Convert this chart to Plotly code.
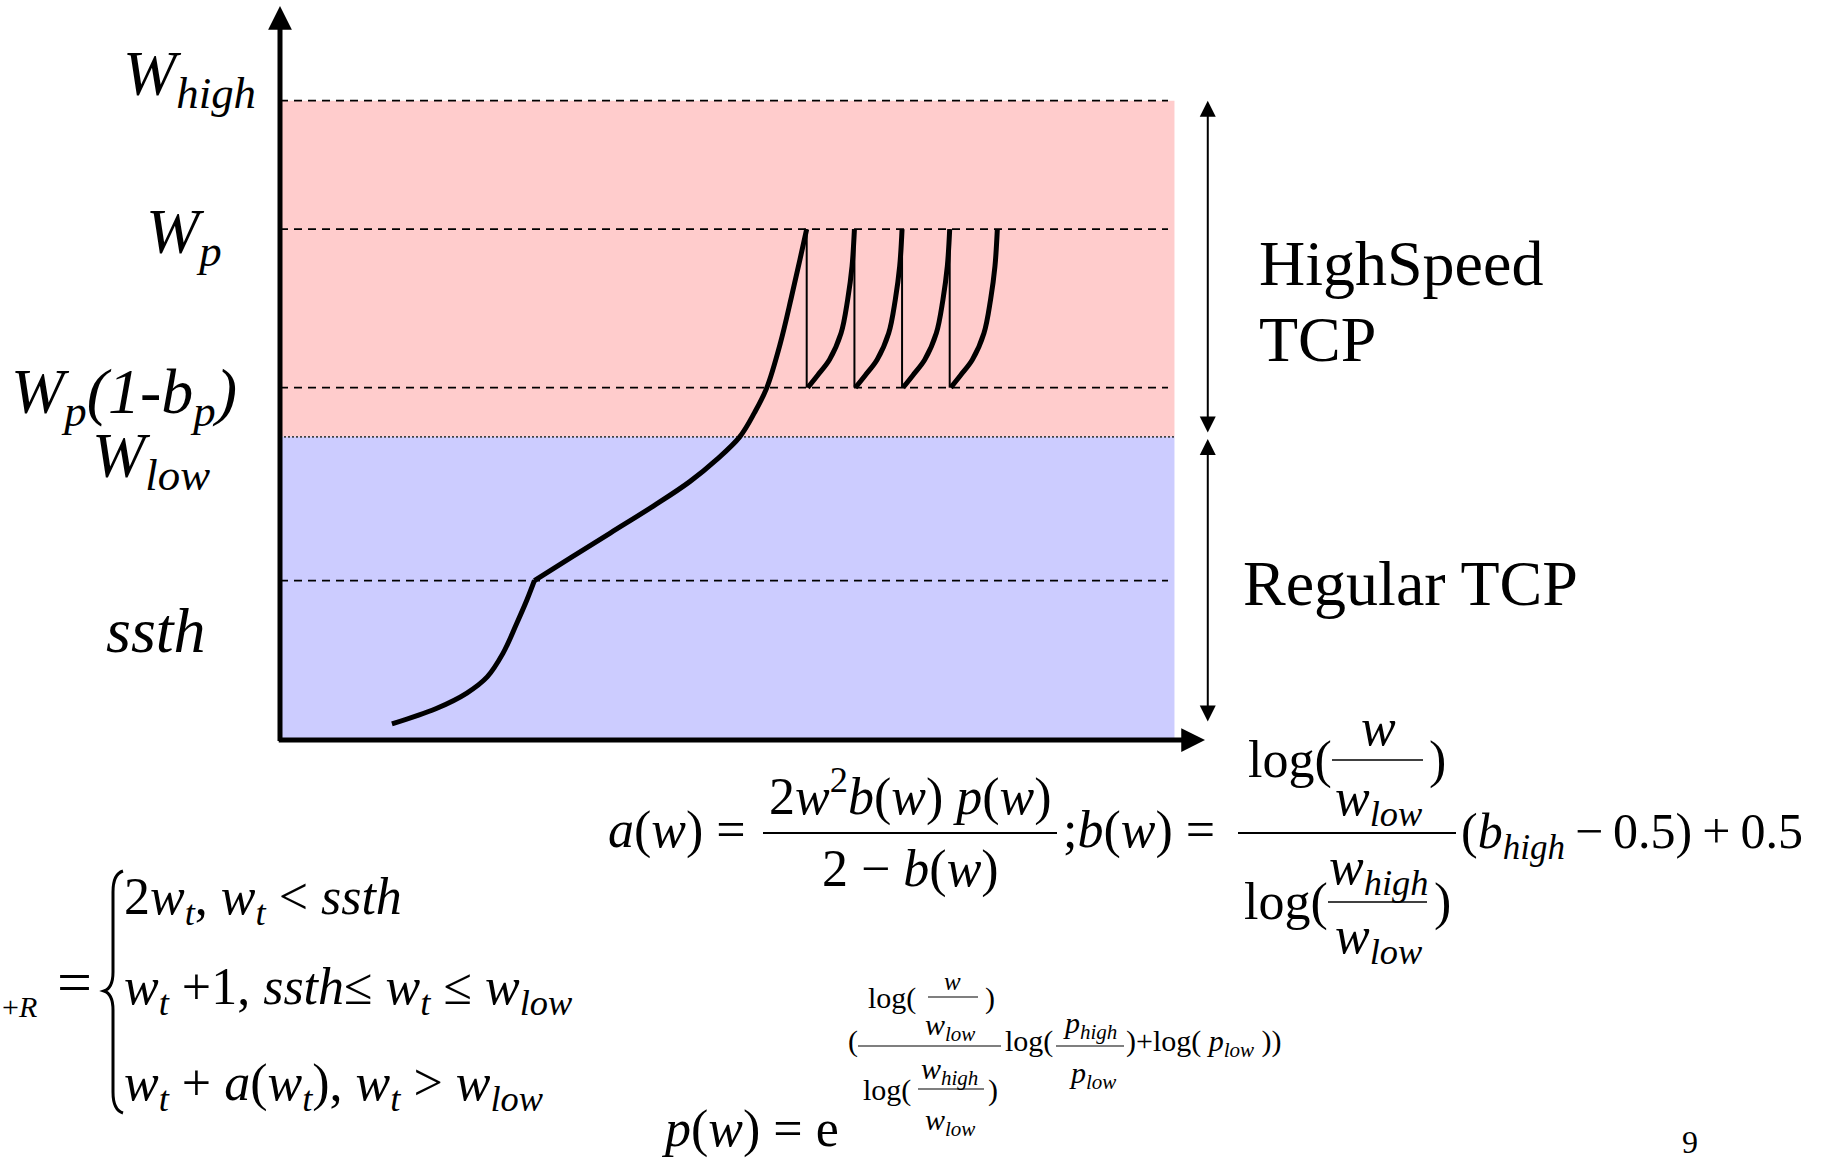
import plotly.graph_objects as go

FIG_W, FIG_H = 1826, 1162
SERIF = "Liberation Serif, Times New Roman, serif"

# ---- congestion-window levels (window axis runs 0..100) ----
W_HIGH = 87.1
W_P = 69.6
W_P_DROP = 48.0      # W_p(1-b_p)
W_LOW = 41.3
SSTH = 21.7

T_MAX = 100.0        # end of the time axis
W_MAX = 100.0        # end of the window axis
ZONE_END = 96.7      # right edge of the shaded regimes
DASH_END = 96.0      # right end of the level guides

# ---- cwnd trajectory ----
# slow start, up to ssth
ss_t = [12.1, 16.9, 20.2, 22.4, 24.1, 25.6, 26.7, 27.5]
ss_w = [2.2, 4.3, 6.4, 8.6, 11.8, 15.9, 19.1, 21.7]
# linear growth, then HighSpeed growth up to the first loss at W_p
ca_t = [27.5, 31.4, 35.7, 40.4, 44.3, 47.2, 49.7, 51.3, 52.6, 54.1, 55.3, 56.2, 56.94]
ca_w = [21.7, 24.8, 28.2, 31.9, 35.2, 38.2, 41.3, 44.6, 47.9, 54.1, 60.4, 65.4, 69.6]
# sawtooth cycles between W_p(1-b_p) and W_p
cyc1_t = [57.05, 58.13, 59.40, 60.65, 61.37, 61.84, 62.10]
cyc2_t = [62.20, 63.28, 64.55, 65.80, 66.52, 66.99, 67.25]
cyc3_t = [67.35, 68.43, 69.70, 70.95, 71.67, 72.14, 72.40]
cyc4_t = [72.50, 73.58, 74.85, 76.10, 76.82, 77.29, 77.55]
cyc_w = [48.0, 49.7, 51.8, 55.4, 60.0, 64.5, 69.6]
# loss events (multiplicative decrease)
loss_t = [56.94, 62.10, 67.25, 72.40]

# ---- axis placement on the page (pixels) ----
ORIGIN_X, ORIGIN_Y = 280, 740
PX_PER_T, PX_PER_W = 9.25, 7.34
x_range = [-ORIGIN_X / PX_PER_T, (FIG_W - ORIGIN_X) / PX_PER_T]
y_range = [-(FIG_H - ORIGIN_Y) / PX_PER_W, ORIGIN_Y / PX_PER_W]

fig = go.Figure()
LINE = dict(color="black", width=5)

fig.add_trace(go.Scatter(x=ss_t, y=ss_w, mode="lines", line=dict(shape="spline", **LINE),
                         hoverinfo="skip", showlegend=False))
fig.add_trace(go.Scatter(x=ca_t, y=ca_w, mode="lines", line=dict(shape="spline", **LINE),
                         hoverinfo="skip", showlegend=False))
for ct in (cyc1_t, cyc2_t, cyc3_t, cyc4_t):
    fig.add_trace(go.Scatter(x=ct, y=cyc_w, mode="lines", line=dict(shape="spline", **LINE),
                             hoverinfo="skip", showlegend=False))

drop_x, drop_y = [], []
for lt in loss_t:
    drop_x += [lt, lt, None]
    drop_y += [W_P, W_P_DROP, None]
fig.add_trace(go.Scatter(x=drop_x, y=drop_y, mode="lines", line=dict(color="black", width=2),
                         hoverinfo="skip", showlegend=False))

shapes = []
# shaded regimes
shapes.append(dict(type="rect", xref="x", yref="y", x0=0, x1=ZONE_END, y0=W_LOW, y1=W_HIGH,
                   fillcolor="#FFCCCC", line=dict(width=0), layer="below"))
shapes.append(dict(type="rect", xref="x", yref="y", x0=0, x1=ZONE_END, y0=0, y1=W_LOW,
                   fillcolor="#CCCCFF", line=dict(width=0), layer="below"))
# level guides
for lv in (W_HIGH, W_P, W_P_DROP, SSTH):
    shapes.append(dict(type="line", xref="x", yref="y", x0=0, x1=DASH_END, y0=lv, y1=lv,
                       line=dict(color="black", width=1.8, dash="8px,6px"), layer="below"))
shapes.append(dict(type="line", xref="x", yref="y", x0=0, x1=ZONE_END, y0=W_LOW, y1=W_LOW,
                   line=dict(color="#444444", width=1.8, dash="2px,2px"), layer="below"))

ann = []


def arrow(x, y, ax, ay, width, size, both=False):
    ann.append(dict(x=x, y=y, ax=ax, ay=ay, xref="x", yref="y", axref="x", ayref="y",
                    text="", showarrow=True, arrowhead=2, arrowsize=size, arrowwidth=width,
                    arrowcolor="black", arrowside="end+start" if both else "end",
                    startarrowhead=2, startarrowsize=size, standoff=0, startstandoff=0))


# axes
arrow(0, W_MAX, 0, -0.35, 5, 0.95)
arrow(T_MAX, 0, -0.3, 0, 5, 0.95)
# regime spans
arrow(T_MAX + 0.3, W_HIGH, T_MAX + 0.3, W_LOW + 0.4, 2, 1.6, both=True)
arrow(T_MAX + 0.3, W_LOW - 0.3, T_MAX + 0.3, 2.3, 2, 1.6, both=True)


def put(x, base, text, size, anchor="left"):
    """Place text with its baseline at pixel row `base`."""
    mid = base - 0.3375 * size
    if "<sub>" in text:
        mid += 0.0725 * size
    if "<sup>" in text:
        mid -= 0.0765 * size
    ann.append(dict(xref="paper", yref="paper", x=x / FIG_W, y=1 - mid / FIG_H, text=text,
                    showarrow=False, xanchor=anchor, yanchor="middle",
                    font=dict(family=SERIF, size=size, color="black")))


def bar(x0, x1, y, w=1.8):
    shapes.append(dict(type="line", xref="paper", yref="paper", x0=x0 / FIG_W, x1=x1 / FIG_W,
                       y0=1 - y / FIG_H, y1=1 - y / FIG_H, line=dict(color="black", width=w)))


# level labels
put(121, 95, "<i>W<sub>high</sub></i>", 64)
put(144, 253, "<i>W<sub>p</sub></i>", 64)
put(9, 413, "<i>W<sub>p</sub>(1-b<sub>p</sub>)</i>", 64)
put(90, 477, "<i>W<sub>low</sub></i>", 64)
put(104, 652, "<i>ssth</i>", 64)

# regime labels
put(1257, 285, "HighSpeed", 64)
put(1257, 361, "TCP", 64)
put(1241, 605, "Regular TCP", 64)

# a(w) and b(w)
EQ = 52
put(606, 848, "<i>a</i>(<i>w</i>) =", EQ)
put(910, 815, "2<i>w</i><sup>2</sup><i>b</i>(<i>w</i>) <i>p</i>(<i>w</i>)", EQ, "center")
bar(763, 1057, 833, 2)
put(910, 887, "2 \u2212 <i>b</i>(<i>w</i>)", EQ, "center")
put(1061, 848, ";<i>b</i>(<i>w</i>) =", EQ)
bar(1238, 1456, 833, 2)
put(1246, 778, "log(", EQ)
put(1378, 745, "<i>w</i>", EQ, "center")
bar(1332, 1423, 760, 1.5)
put(1378, 815, "<i>w<sub>low</sub></i>", EQ, "center")
put(1427, 778, ")", EQ)
put(1242, 920, "log(", EQ)
put(1378, 884, "<i>w<sub>high</sub></i>", EQ, "center")
bar(1328, 1427, 902, 1.5)
put(1378, 953, "<i>w<sub>low</sub></i>", EQ, "center")
put(1432, 920, ")", EQ)
put(1459, 848, "(<i>b<sub>high</sub></i>\u2009\u2212\u20090.5)\u2009+\u20090.5", 50)

# window update rule
PW = 52
put(0, 1017, "+<i>R</i>", 30)
put(55, 1003, "=", 62)
bx = lambda v: v / FIG_W
by = lambda v: 1 - v / FIG_H
brace = (f"M{bx(123)},{by(871)} Q{bx(113)},{by(874)} {bx(113)},{by(892)} "
         f"L{bx(113)},{by(972)} Q{bx(113)},{by(988)} {bx(104)},{by(991)} "
         f"Q{bx(113)},{by(994)} {bx(113)},{by(1010)} "
         f"L{bx(113)},{by(1092)} Q{bx(113)},{by(1110)} {bx(123)},{by(1113)}")
shapes.append(dict(type="path", xref="paper", yref="paper", path=brace,
                   line=dict(color="black", width=3)))
put(122, 914, "2<i>w<sub>t</sub></i>, <i>w<sub>t</sub></i> &lt; <i>ssth</i>", PW)
put(122, 1004, "<i>w<sub>t</sub></i> +1, <i>ssth</i>\u2264 <i>w<sub>t</sub></i> \u2264 <i>w<sub>low</sub></i>", PW)
put(122, 1100, "<i>w<sub>t</sub></i> + <i>a</i>(<i>w<sub>t</sub></i>), <i>w<sub>t</sub></i> &gt; <i>w<sub>low</sub></i>", PW)

# p(w)
put(659, 1147, "<i>p</i>(<i>w</i>) = e", EQ)
EX = 30
put(866, 1008, "log(", EX)
put(952, 990, "<i>w</i>", 25, "center")
bar(928, 978, 997, 1.2)
put(950, 1035, "<i>w<sub>low</sub></i>", EX, "center")
put(983, 1008, ")", EX)
put(846, 1051, "(", EX)
bar(858, 1001, 1046, 1.2)
put(861, 1100, "log(", EX)
put(949, 1079, "<i>w<sub>high</sub></i>", EX, "center")
bar(918, 984, 1089, 1.2)
put(950, 1130, "<i>w<sub>low</sub></i>", EX, "center")
put(986, 1100, ")", EX)
put(1003, 1051, "log(", EX)
put(1090, 1033, "<i>p<sub>high</sub></i>", EX, "center")
bar(1056, 1124, 1046, 1.2)
put(1092, 1083, "<i>p<sub>low</sub></i>", EX, "center")
put(1124, 1051, ")+log( <i>p<sub>low</sub></i> ))", EX)

# slide number
put(1680, 1153, "9", 32)

fig.update_layout(
    width=FIG_W, height=FIG_H, margin=dict(l=0, r=0, t=0, b=0),
    paper_bgcolor="white", plot_bgcolor="white",
    xaxis=dict(range=x_range, visible=False, fixedrange=True),
    yaxis=dict(range=y_range, visible=False, fixedrange=True),
    shapes=shapes, annotations=ann, showlegend=False,
    font=dict(family=SERIF),
)
fig.write_html("out.html")
